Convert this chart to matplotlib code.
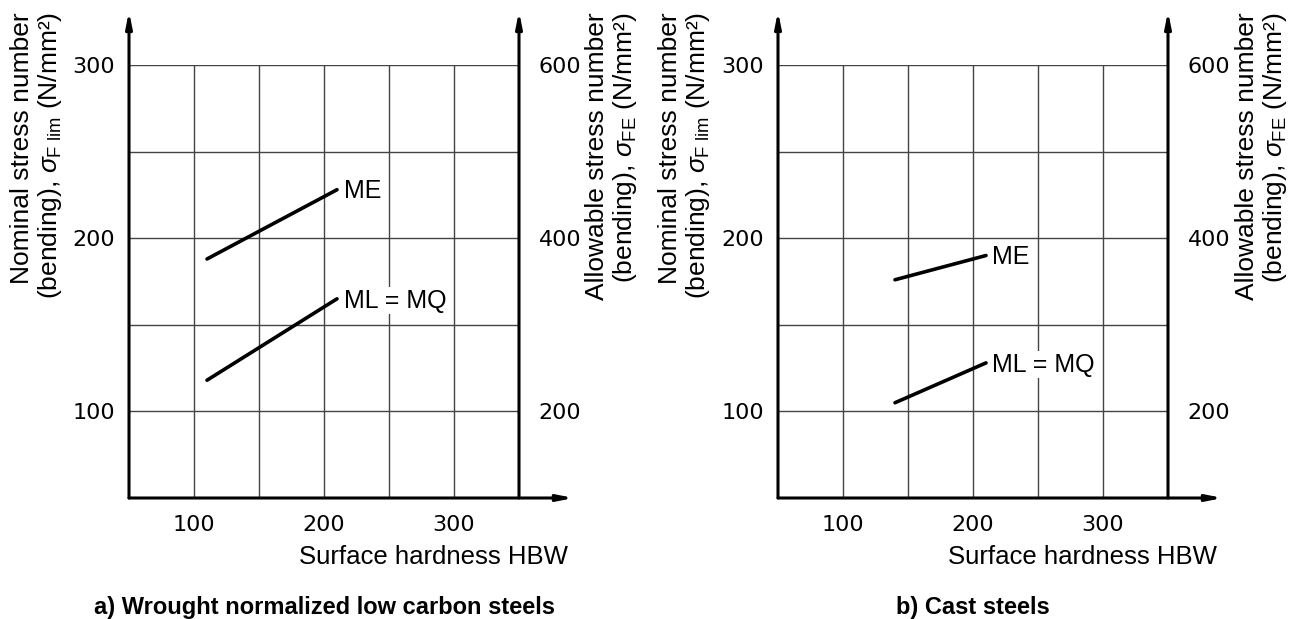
import matplotlib
matplotlib.use('Agg')
import matplotlib.pyplot as plt

# values
hbw_a = [110, 210]
me_a = [188, 228]
mlmq_a = [118, 165]

hbw_b = [140, 210]
me_b = [176, 190]
mlmq_b = [105, 128]

x_ticks = [100, 200, 300]
y_ticks = [100, 200, 300]
y2_ticks = [200, 400, 600]
x_grid = [100, 150, 200, 250, 300]
y_grid = [100, 150, 200, 250, 300]

plt.rcParams['font.family'] = ['Liberation Sans', 'DejaVu Sans']
plt.rcParams['mathtext.fontset'] = 'custom'
plt.rcParams['mathtext.rm'] = 'Liberation Sans'
plt.rcParams['mathtext.it'] = 'Liberation Sans:italic'

W, H = 1300, 619
fig = plt.figure(figsize=(13, 6.19), dpi=100)

tickfont = dict(family=['Liberation Sans Narrow', 'DejaVu Sans'], size=16)
lab_l = 'Nominal stress number\n(bending), $\\sigma_{\\mathrm{F\\ lim}}$ (N/mm²)'
lab_r = 'Allowable stress number\n(bending), $\\sigma_{\\mathrm{FE}}$ (N/mm²)'


def panel(x0, hbw, me, mlmq, title, xl_left, xl_right):
    ax = fig.add_axes([x0 / W, 1 - 498 / H, 390 / W, 433 / H])
    ax.set_xlim(50, 350)
    ax.set_ylim(50, 300)
    for s in ax.spines.values():
        s.set_visible(False)
    ax.hlines(y_grid, 50, 350, color='#444444', lw=1.0, zorder=1)
    ax.vlines(x_grid, 50, 300, color='#444444', lw=1.0, zorder=1)
    ap = dict(arrowstyle='-|>,head_length=0.9,head_width=0.18', lw=2.2,
              color='black', shrinkA=0, shrinkB=0)
    ax.annotate('', xy=(50, 331), xytext=(50, 50), arrowprops=ap, annotation_clip=False)
    ax.annotate('', xy=(350, 331), xytext=(350, 50), arrowprops=ap, annotation_clip=False)
    ax.annotate('', xy=(392, 50), xytext=(50, 50), arrowprops=ap, annotation_clip=False)

    ax.plot(hbw, me, color='black', lw=2.6, solid_capstyle='round', zorder=3)
    ax.plot(hbw, mlmq, color='black', lw=2.6, solid_capstyle='round', zorder=3)
    bb = dict(facecolor='white', edgecolor='none', pad=1)
    ax.text(hbw[-1] + 5, me[-1] - 1, 'ME', fontsize=18, va='center', ha='left', bbox=bb, zorder=4)
    ax.text(hbw[-1] + 5, mlmq[-1] - 1, 'ML = MQ', fontsize=18, va='center', ha='left', bbox=bb, zorder=4)

    ax.set_xticks(x_ticks)
    ax.set_yticks(y_ticks)
    ax.tick_params(length=0)
    ax.tick_params(axis='x', pad=12)
    ax.tick_params(axis='y', pad=10)
    for t in ax.get_xticklabels() + ax.get_yticklabels():
        t.set_fontproperties(tickfont)
    sec = ax.secondary_yaxis('right', functions=(lambda y: 2 * y, lambda y: y / 2))
    sec.set_yticks(y2_ticks)
    sec.spines['right'].set_visible(False)
    sec.tick_params(length=0, pad=14)
    for t in sec.get_yticklabels():
        t.set_fontproperties(tickfont)

    ax.text(439 / 390, -0.137, 'Surface hardness HBW', transform=ax.transAxes,
            fontsize=18.5, ha='right', va='center')
    ax.text(0.5, -0.252, title, transform=ax.transAxes, fontsize=17,
            fontweight='bold', ha='center', va='center')
    fig.text(xl_left / W, 1 - 12 / H, lab_l, rotation=90, ha='center', va='top',
             multialignment='right', fontsize=19, linespacing=1.12)
    fig.text(xl_right / W, 1 - 12 / H, lab_r, rotation=90, ha='center', va='top',
             multialignment='right', fontsize=19, linespacing=1.12)


panel(129, hbw_a, me_a, mlmq_a, 'a) Wrought normalized low carbon steels', 37, 612)
panel(778, hbw_b, me_b, mlmq_b, 'b) Cast steels', 685, 1262)

fig.savefig('out.png', dpi=100)
